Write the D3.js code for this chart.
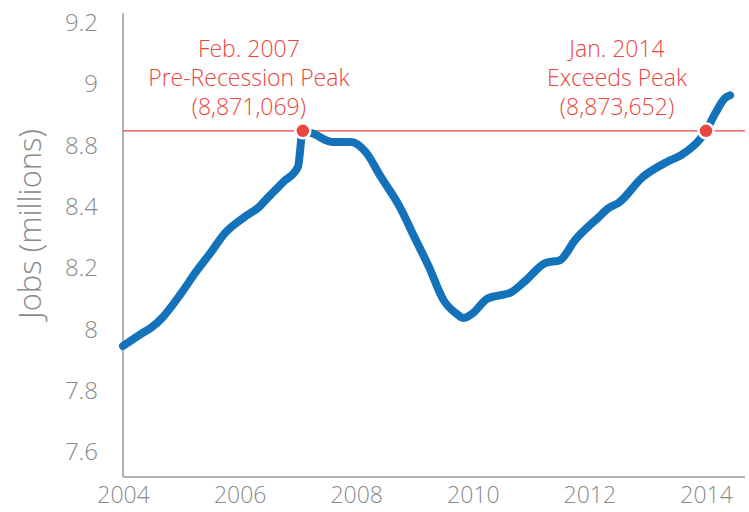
<!DOCTYPE html>
<html>
<head>
<meta charset="utf-8">
<script src="https://cdn.jsdelivr.net/npm/d3@7"></script>
<style>
  body { margin: 0; background: #fff; }
  text { font-family: "Open Sans", Lato, sans-serif; font-weight: 300; }
</style>
</head>
<body>
<svg id="chart" width="749" height="512"></svg>
<script>
// monthly points (jobs, millions)
var months = ["2004-01","2004-05","2004-07","2004-09","2005-01","2005-04","2005-07","2005-10",
  "2006-02","2006-05","2006-07","2006-10","2007-01","2007-02","2007-04","2007-08","2007-12",
  "2008-03","2008-06","2008-10","2009-01","2009-04","2009-07","2009-10","2009-11","2010-01",
  "2010-04","2010-09","2010-12","2011-04","2011-07","2011-10","2012-03","2012-05","2012-07",
  "2012-12","2013-05","2013-08","2013-12","2014-01","2014-03","2014-05","2014-06"];
var jobs = [7.946,7.988,8.008,8.037,8.119,8.187,8.249,8.314,
  8.367,8.399,8.465,8.562,8.66,8.848,8.840,8.812,8.812,
  8.758,8.60,8.399,8.30,8.204,8.096,8.047,8.037,8.053,
  8.10,8.122,8.161,8.217,8.226,8.29,8.367,8.396,8.425,
  8.595,8.693,8.739,8.825,8.848,8.906,8.955,8.964];

// axis labels as printed (evenly spaced, 8.6 is not shown)
var yTicks = [7.6, 7.8, 8, 8.2, 8.4, 8.8, 9, 9.2];
var yearTicks = [2004, 2006, 2008, 2010, 2012, 2014];

var peakLevel = 8.848;
var peaks = [
  { month: "2007-02", shift: -54, lines: ["Feb. 2007", "Pre-Recession Peak", "(8,871,069)"] },
  { month: "2014-01", shift: -89, lines: ["Jan. 2014", "Exceeds Peak", "(8,873,652)"] }
];

var svg = d3.select("#chart");
var parse = d3.timeParse("%Y-%m");
var data = months.map(function (m, i) { return { date: parse(m), value: jobs[i] }; });

var plotLeft = 123, plotRight = 745, plotTop = 23, plotBottom = 452, axisTop = 13, axisBottom = 477;

var x = d3.scaleTime()
  .domain([new Date(2004, 0, 1), new Date(2014, 0, 1)])
  .range([plotLeft, 706]);

// piecewise scale so each printed label sits at an even step
var y = d3.scaleLinear()
  .domain(yTicks)
  .range(yTicks.map(function (d, i) { return plotBottom - i * (plotBottom - plotTop) / (yTicks.length - 1); }));

var grey = "#8a8a8a", red = "#ea4640", blue = "#1472bb";
var font = "'Open Sans', Lato, sans-serif";

// axis lines
svg.append("line").attr("x1", plotLeft).attr("x2", plotLeft).attr("y1", axisTop).attr("y2", axisBottom)
  .attr("stroke", "#999").attr("stroke-width", 1.5);
svg.append("line").attr("x1", plotLeft).attr("x2", plotRight).attr("y1", axisBottom).attr("y2", axisBottom)
  .attr("stroke", "#999").attr("stroke-width", 1.5);

var yAxis = svg.append("g")
  .attr("transform", "translate(" + plotLeft + ",0)")
  .call(d3.axisLeft(y).tickValues(yTicks).tickSize(0).tickPadding(25).tickFormat(d3.format("")));
yAxis.select(".domain").remove();
yAxis.selectAll("text").attr("fill", grey).style("font-size", "24px").style("font-family", font);

var xAxis = svg.append("g")
  .attr("transform", "translate(0," + axisBottom + ")")
  .call(d3.axisBottom(x)
    .tickValues(yearTicks.map(function (yr) { return new Date(yr, 0, 1); }))
    .tickSize(0).tickPadding(10).tickFormat(d3.timeFormat("%Y")));
xAxis.select(".domain").remove();
xAxis.selectAll("text").attr("fill", grey).style("font-size", "23px").style("font-family", font);

// y title
svg.append("text")
  .attr("transform", "translate(41,224) rotate(-90)")
  .attr("text-anchor", "middle")
  .attr("fill", grey)
  .style("font-size", "31px")
  .style("font-family", font)
  .text("Jobs (millions)");

// reference line at the old peak
svg.append("line")
  .attr("x1", plotLeft).attr("x2", plotRight)
  .attr("y1", y(peakLevel)).attr("y2", y(peakLevel))
  .attr("stroke", red).attr("stroke-width", 1.3);

var line = d3.line()
  .x(function (d) { return x(d.date); })
  .y(function (d) { return y(d.value); })
  .curve(d3.curveMonotoneX);

svg.append("path")
  .datum(data)
  .attr("d", line)
  .attr("fill", "none")
  .attr("stroke", blue)
  .attr("stroke-width", 8)
  .attr("stroke-linecap", "round")
  .attr("stroke-linejoin", "round");

// peak markers and notes
peaks.forEach(function (p) {
  var px = x(parse(p.month)), py = y(peakLevel);
  svg.append("circle")
    .attr("cx", px).attr("cy", py).attr("r", 7.5)
    .attr("fill", red).attr("stroke", "#fff").attr("stroke-width", 2.5);
  svg.append("text")
    .attr("text-anchor", "middle")
    .attr("fill", red)
    .style("font-size", "23px")
    .style("font-family", font)
    .selectAll("tspan")
    .data(p.lines)
    .enter().append("tspan")
    .attr("x", px + p.shift)
    .attr("y", function (d, i) { return 57 + i * 29; })
    .text(function (d) { return d; });
});
</script>
</body>
</html>
